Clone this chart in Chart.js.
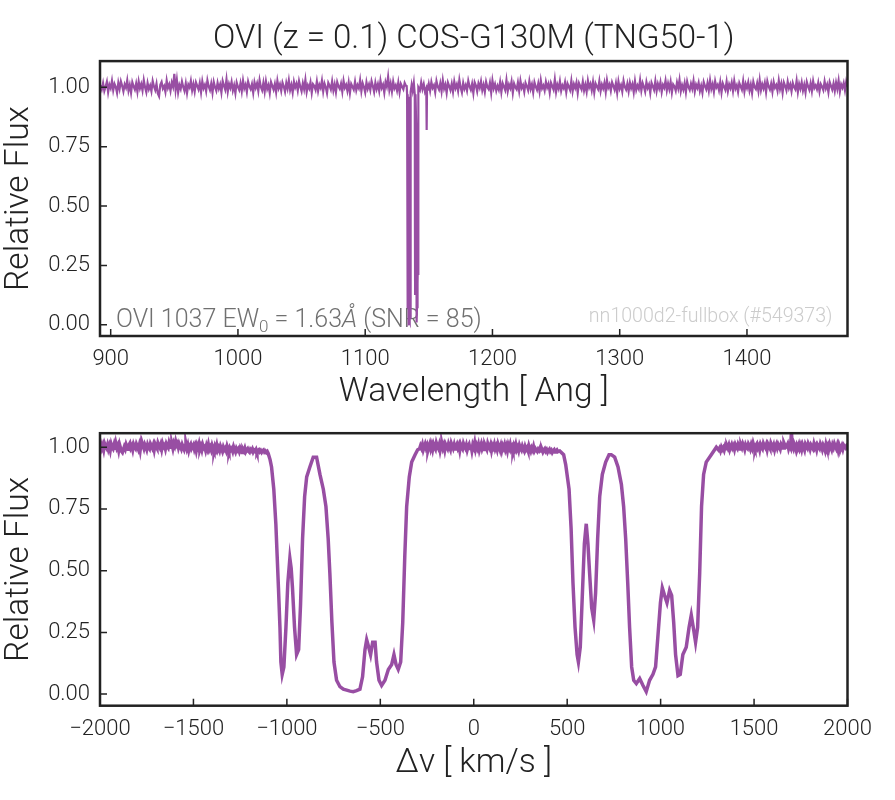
<!DOCTYPE html>
<html><head><meta charset="utf-8">
<script src="https://cdn.jsdelivr.net/npm/chart.js@4.4.1/dist/chart.umd.min.js"></script>
<style>
html,body{margin:0;padding:0;background:#fff;}
#wrap{position:relative;width:895px;height:800px;}
canvas{position:absolute;left:0;}
#c1{top:0;} #c2{top:410px;}
</style></head><body>
<div id="wrap"><canvas id="c1" width="895" height="410"></canvas><canvas id="c2" width="895" height="390"></canvas></div>
<script>
// ---------- DATA ----------
const chartTitle = 'OVI (z = 0.1) COS-G130M (TNG50-1)';
const lineColor = '#984ea3';

// top panel: continuum segments on a 1 Angstrom pixel grid
const waveStep = 1;
const waveSegStarts = [892, 1150];
const fluxTopSegA = [
1.008,0.991,1.017,0.984,1.002,1.023,0.979,1.011,0.996,1.027,
0.987,1.014,1.001,0.976,1.019,0.993,1.025,1.006,0.982,1.012,
0.998,1.029,0.985,1.009,0.977,1.021,1.004,0.990,1.016,0.981,
1.024,0.995,1.013,0.986,1.030,1.000,0.979,1.018,0.992,1.007,
0.983,1.026,1.003,0.988,1.015,0.974,0.962,1.010,1.022,0.994,
1.005,0.980,1.028,0.997,1.012,0.985,1.020,1.002,1.056,0.989,
1.031,0.978,1.009,0.993,1.024,1.001,0.984,1.016,0.976,1.011,
0.999,1.027,0.987,1.013,0.982,1.021,1.006,0.991,1.018,0.979,
1.025,0.996,1.010,0.983,1.029,1.003,0.988,1.015,0.977,1.022,
1.000,0.985,1.019,0.994,1.012,0.978,1.026,1.007,0.990,1.033,
0.981,1.014,0.997,1.023,0.986,1.008,0.975,1.020,1.002,0.989,
1.017,0.983,1.028,0.995,1.011,0.980,1.024,1.004,0.992,1.013,
0.977,1.021,0.998,1.016,0.984,1.030,1.001,0.987,1.019,0.982,
1.025,0.993,1.009,0.976,1.022,1.006,0.990,1.014,0.979,1.027,
0.996,1.012,0.985,1.020,1.003,0.981,1.018,0.994,1.029,0.988,
1.010,0.978,1.023,0.999,1.015,0.986,1.026,1.002,0.983,1.017,
0.992,1.031,0.980,1.008,0.995,1.021,0.977,1.013,1.005,0.989,
1.024,0.984,1.011,0.997,1.028,0.982,1.016,1.000,0.975,1.019,
1.007,0.991,1.025,0.986,1.012,0.979,1.022,1.004,0.993,1.015,
0.981,1.027,0.998,1.010,0.985,1.020,0.976,1.014,1.002,0.990,
1.023,0.987,1.009,0.996,1.030,0.983,1.017,1.001,0.978,1.021,
0.994,1.012,0.988,1.026,1.005,0.980,1.019,0.992,1.013,0.984,
1.028,0.997,1.011,0.977,1.022,1.003,1.044,0.989,1.016,0.982,
1.024,0.995,1.008,0.986,1.020,0.979,1.014,1.002,0.991,1.018,
1.006];
const fluxTopSegC = [
1.013,0.985,1.022,0.997,1.008,0.979,1.026,1.002,0.990,1.017,
0.983,1.029,0.994,1.011,0.976,1.020,1.005,0.988,1.015,0.981,
1.024,0.996,1.012,0.984,1.031,0.999,0.978,1.018,0.993,1.009,
0.986,1.027,1.003,0.989,1.014,0.975,1.021,1.007,0.982,1.016,
0.998,1.025,0.987,1.010,0.980,1.023,1.001,0.992,1.019,0.977,
1.028,0.995,1.013,0.985,1.006,0.990,1.022,0.979,1.017,1.003,
0.988,1.030,0.983,1.011,0.996,1.024,0.976,1.015,1.000,0.991,
1.020,0.984,1.027,0.997,1.009,0.981,1.018,1.004,0.987,1.026,
0.993,1.012,0.978,1.021,1.002,0.989,1.016,0.982,1.029,0.995,
1.007,0.986,1.023,0.999,1.014,0.977,1.019,1.005,0.990,1.032,
0.980,1.011,0.994,1.025,0.985,1.008,0.996,1.021,0.979,1.015,
1.002,0.988,1.027,0.983,1.013,0.997,1.020,0.976,1.017,1.004,
0.991,1.024,0.986,1.010,0.981,1.028,0.999,1.014,0.987,1.022,
0.978,1.016,1.003,0.992,1.026,0.984,1.011,0.995,1.019,0.980,
1.029,0.998,1.012,0.985,1.021,1.006,0.989,1.017,0.977,1.024,
0.994,1.009,0.982,1.027,1.001,0.990,1.015,0.983,1.020,0.996,
1.013,0.979,1.025,0.988,1.007,0.993,1.030,0.986,1.018,1.002,
0.981,1.022,0.997,1.011,0.976,1.019,1.004,0.989,1.026,0.984,
1.014,0.995,1.021,0.980,1.010,0.998,1.028,0.987,1.016,0.992,
1.023,0.978,1.012,1.003,0.985,1.020,0.996,1.031,0.983,1.009,
0.990,1.017,0.979,1.024,1.001,0.988,1.015,0.994,1.027,0.982,
1.011,0.997,1.019,0.984,1.006,0.977,1.022,1.005,0.991,1.018,
0.986,1.029,0.993,1.013,0.981,1.025,0.999,1.010,0.987,1.021,
0.978,1.016,1.002,0.989,1.024,0.983,1.012,0.996,1.020,0.985,
1.027,0.994,1.008,0.980,1.018,1.004,0.990,1.026,0.982,1.014,
0.997,1.021,0.986,1.011,0.976,1.023,1.001,0.992,1.017,0.984,
1.030,0.988,1.013,0.995,1.019,0.979,1.025,1.003,0.990,1.015,
0.981,1.022,0.998,1.009,0.985,1.028,0.993,1.016,0.977,1.020,
1.005,0.987,1.024,0.996,1.012,0.983,1.018,1.001,0.991,1.027,
0.980,1.014,0.994,1.021,0.986,1.010,0.978,1.023,1.004,0.989,
1.017,0.984,1.026,0.997,1.008,0.992,1.019,0.982,1.013,1.002,
0.988,1.025,0.995,1.011,0.979,1.022,1.006,0.990,1.016,0.985,
1.020,0.993,1.028,0.981,1.012,0.998,1.018,0.987,1.024,1.003];
// top panel: absorption region (wavelength, flux)
const absTopWave = [1132.6,1132.93,1133.08,1133.20,1133.30,1133.38,1133.45,1133.52,1133.62,1133.71,1133.88,1134.00,1134.11,1134.20,1134.28,1134.38,1134.60,1134.79,1134.91,1135.00,1135.09,1135.23,1135.46,1135.60,1135.70,1135.80,1135.94,1136.5,1137.3,1138.2,1138.95,1139.05,1139.13,1139.22,1139.30,1139.39,1139.46,1139.54,1139.62,1139.69,1139.89,1140.12,1140.20,1140.32,1140.45,1140.60,1140.77,1140.93,1141.00,1141.11,1141.18,1141.25,1141.35,1141.51,1141.60,1141.68,1141.75,1142.02,1143.0,1144.0,1145.0,1146.0,1147.0,1148.0,1148.3,1148.6,1149.2];
const absTopFlux = [1.005,0.97,0.50,0.07,0.27,0.54,0.43,0.15,0.45,0.87,0.96,0.89,0.75,0.40,0.08,0.01,0.015,0.01,0.22,0.16,0.21,0.03,0.15,0.09,0.50,0.88,0.98,1.010,0.985,1.018,0.97,0.75,0.40,0.13,0.40,0.69,0.49,0.30,0.63,0.86,0.97,0.82,0.45,0.05,0.06,0.01,0.09,0.42,0.37,0.42,0.20,0.07,0.17,0.32,0.21,0.45,0.92,1.00,0.987,1.021,0.992,1.013,0.981,0.995,0.82,1.008,0.986];

// bottom panel: continuum segments on a 5 km/s grid
const velStep = 5;
const velSegStarts = [-2000, -290, 1310];
const fluxBotSegA = [
1.003,1.011,0.996,1.008,0.991,1.014,1.004,0.997,1.010,0.993,
1.006,0.989,1.012,1.000,0.994,1.009,0.990,1.015,0.998,1.007,
0.988,1.010,0.996,0.984,0.979,0.990,1.002,0.993,1.011,1.001,
0.992,1.009,1.016,0.997,1.005,0.990,1.011,1.001,0.995,1.013,
1.004,0.993,1.008,0.988,1.015,0.999,1.007,0.995,1.011,1.002,
0.991,1.010,1.000,0.994,1.014,1.006,0.997,1.009,0.990,1.012,
1.003,0.996,1.017,1.007,0.999,1.011,0.993,1.014,1.002,1.008,
0.994,1.013,1.004,0.998,1.019,1.008,1.000,1.012,0.996,1.016,
1.006,1.024,1.010,1.017,0.999,1.012,1.003,0.994,1.010,1.000,
0.991,1.007,1.014,0.996,1.009,0.989,1.005,1.012,0.995,1.003,
1.010,0.993,1.005,0.987,1.008,0.998,1.013,0.992,1.004,0.990,
1.009,0.997,1.002,0.988,1.006,0.994,1.011,0.991,1.000,0.989,
1.007,0.995,0.986,1.003,0.992,1.008,0.989,0.998,0.987,1.004,
0.994,0.984,1.000,0.990,0.996,0.986,1.004,0.992,0.982,0.997,
0.989,0.995,0.984,1.001,0.990,0.981,0.995,0.987,0.993,0.983,
0.997,0.988,0.979,0.992,0.985,0.996,0.982,0.989,0.994,0.984,
0.980,0.991,0.986,0.993,0.981,0.988,0.984,0.991,0.979,0.987,
0.990,0.982,0.987,0.980,0.986,0.989,0.981,0.985,0.979,0.983];
const fluxBotSegB = [
0.994,1.006,0.997,1.010,0.990,1.002,1.013,0.998,1.008,0.989,
1.004,1.015,0.995,1.009,0.992,1.012,1.001,0.993,1.017,1.005,
0.997,1.010,0.988,1.007,1.014,0.997,1.009,0.990,1.011,1.003,
0.995,1.013,1.001,0.991,1.016,1.006,0.996,1.010,0.993,1.005,
1.013,0.998,1.008,0.988,1.011,1.001,0.994,1.015,1.005,0.997,
1.009,0.990,1.004,1.012,0.995,1.007,0.987,1.010,1.000,1.018,
0.993,1.008,0.997,1.011,0.989,1.003,1.014,0.995,1.006,0.991,
1.010,1.001,0.992,1.015,1.004,0.996,1.009,0.988,1.007,0.999,
1.012,0.994,1.004,0.991,1.013,1.002,0.995,1.008,0.989,1.006,
0.997,1.010,0.992,1.004,0.987,1.009,0.998,1.012,0.993,1.002,
0.989,1.006,0.995,1.010,0.991,1.000,0.987,1.007,0.996,0.989,
1.004,0.993,0.985,1.002,0.991,0.998,0.987,1.006,0.994,0.984,
0.997,0.989,1.003,0.986,0.994,0.988,0.983,0.992,0.987,0.997,
0.985,0.991,0.981,0.989,0.994,0.984,0.990,0.980,0.987,0.992,
0.983,0.988,0.979,0.986,0.990,0.981,0.985,0.989,0.982,0.984];
const fluxBotSegC = [
0.989,0.996,0.986,1.000,0.991,0.998,0.988,1.003,0.994,1.006,
0.997,1.008,0.991,1.002,1.011,0.998,1.006,0.992,1.010,1.001,
0.995,1.012,1.004,0.993,1.009,0.999,1.014,1.005,0.992,1.010,
1.001,0.996,1.013,1.006,0.994,1.010,0.998,1.016,1.003,0.993,
1.008,1.014,0.997,1.005,0.990,1.011,1.002,0.995,1.015,1.006,
0.999,1.010,0.992,1.012,1.004,0.996,1.017,1.008,0.998,1.009,
0.991,1.006,1.014,0.998,1.010,1.002,0.993,1.012,1.005,0.997,
1.017,1.008,1.001,1.005,1.013,0.995,1.007,0.999,1.060,1.003,
0.994,1.014,1.005,0.990,1.009,1.001,1.012,0.996,1.008,0.992,
1.010,1.000,0.989,1.012,1.004,0.997,1.015,1.007,0.993,1.009,
1.002,0.995,1.013,0.998,1.006,0.991,1.010,1.003,0.996,1.014,
1.005,0.992,1.009,1.001,0.988,1.011,0.997,1.007,0.994,1.012,
1.001,0.991,1.009,0.999,1.014,1.004,0.995,1.008,0.990,1.010,
1.000,0.996,1.006,0.993,1.008,1.002,0.997,1.005,1.000];
// bottom panel: absorption systems (velocity, flux)
const absBotVel = [-1100,-1090,-1082,-1070,-1059,-1052,-1045,-1037,-1032,-1025,-1016,-1005,-995,-984,-977,-970,-959,-948,-937,-927,-916,-905,-894,-877,-859,-841,-823,-805,-791,-779,-770,-759,-748,-734,-716,-698,-680,-662,-645,-627,-609,-595,-582,-573,-562,-552,-541,-528,-520,-507,-493,-475,-457,-439,-427,-416,-404,-391,-380,-369,-359,-345,-332,-314,-300,
460,481,492,510,521,531,542,553,560,570,581,592,602,611,620,631,642,652,663,674,688,706,724,736,754,772,790,802,813,824,834,845,856,870,888,905,923,941,959,973,986,999,1009,1021,1034,1048,1059,1070,1080,1093,1105,1119,1137,1152,1164,1177,1187,1198,1209,1219,1230,1244,1271,1298];
const absBotFlux = [0.975,0.95,0.92,0.83,0.69,0.56,0.43,0.27,0.13,0.08,0.11,0.27,0.45,0.55,0.51,0.43,0.27,0.16,0.18,0.36,0.63,0.80,0.88,0.92,0.96,0.96,0.89,0.83,0.76,0.63,0.49,0.29,0.13,0.056,0.03,0.02,0.016,0.012,0.01,0.014,0.02,0.07,0.18,0.22,0.19,0.16,0.21,0.21,0.13,0.056,0.035,0.056,0.10,0.12,0.16,0.12,0.10,0.13,0.29,0.56,0.76,0.88,0.94,0.97,0.99,
0.985,0.97,0.93,0.83,0.67,0.45,0.27,0.16,0.13,0.19,0.40,0.61,0.69,0.61,0.49,0.35,0.30,0.41,0.63,0.80,0.89,0.94,0.97,0.97,0.96,0.92,0.85,0.76,0.63,0.45,0.27,0.11,0.056,0.043,0.063,0.036,0.01,0.056,0.08,0.11,0.24,0.37,0.43,0.40,0.37,0.42,0.40,0.29,0.16,0.075,0.08,0.16,0.19,0.27,0.32,0.26,0.21,0.27,0.49,0.76,0.89,0.94,0.97,1.00];

const yTickStep = 0.25;
const xTickStepTop = 100;
const xTickStepBot = 500;

// ---------- BUILD ----------
function buildSeries(starts, segs, step, ax, ay) {
  const pts = [];
  starts.forEach((s, i) => segs[i].forEach((f, j) => pts.push({x: s + j * step, y: f})));
  ax.forEach((x, i) => pts.push({x: x, y: ay[i]}));
  pts.sort((a, b) => a.x - b.x);
  return pts;
}
const topData = buildSeries(waveSegStarts, [fluxTopSegA, fluxTopSegC], waveStep, absTopWave, absTopFlux);
const botData = buildSeries(velSegStarts, [fluxBotSegA, fluxBotSegB, fluxBotSegC], velStep, absBotVel, absBotFlux);

Chart.defaults.font.family = 'Roboto, "Noto Sans", sans-serif';
Chart.defaults.font.weight = 300;
Chart.defaults.color = '#222';
const INK = '#222';

const frameTicks = {
  id: 'frameTicks',
  afterDatasetsDraw(chart) {
    const {ctx, chartArea: a, scales} = chart;
    ctx.save();
    ctx.strokeStyle = INK; ctx.lineWidth = 1.5;
    ctx.beginPath();
    scales.x.ticks.forEach(t => { const p = scales.x.getPixelForValue(t.value); ctx.moveTo(p, a.bottom); ctx.lineTo(p, a.bottom - 7); });
    scales.y.ticks.forEach(t => { const p = scales.y.getPixelForValue(t.value); ctx.moveTo(a.left, p); ctx.lineTo(a.left + 7, p); });
    ctx.stroke();
    ctx.lineWidth = 2.5;
    ctx.strokeRect(a.left, a.top, a.right - a.left, a.bottom - a.top);
    ctx.restore();
  }
};

const notes = {
  id: 'notes',
  beforeDatasetsDraw(chart) {
    const {ctx, chartArea: a} = chart;
    ctx.save();
    ctx.textBaseline = 'alphabetic';
    ctx.textAlign = 'left';
    ctx.fillStyle = '#707070';
    let x = a.left + 16; const y = a.bottom - 9.5;
    const part = (txt, font, dy) => { ctx.font = font; ctx.fillText(txt, x, y + dy); x += ctx.measureText(txt).width; };
    part('OVI 1037 EW', '300 25px Roboto', 0);
    part('0', '300 17px Roboto', 5);
    part(' = 1.63', '300 25px Roboto', 0);
    part('Å', 'italic 300 25px Roboto', 0);
    part(' (SNR = 85)', '300 25px Roboto', 0);
    ctx.fillStyle = '#cccccc';
    ctx.textAlign = 'right';
    ctx.font = '300 19.6px Roboto';
    ctx.fillText('nn1000d2-fullbox (#549373)', a.right - 15, a.bottom - 14);
    ctx.restore();
  }
};

const yAxis = (min, max) => ({
  type: 'linear', min: min, max: max,
  grid: {display: false, drawTicks: false},
  border: {display: false},
  ticks: {stepSize: yTickStep, includeBounds: false, padding: 10, color: INK, font: {size: 22, weight: 300}, callback: v => v.toFixed(2)},
  title: {display: true, text: 'Relative Flux', color: INK, font: {size: 33.5, weight: 300, lineHeight: 1}, padding: {top: 3, bottom: 0}},
  afterFit: s => { s.width = 100; }
});

new Chart(document.getElementById('c1'), {
  type: 'line',
  data: {datasets: [{data: topData, borderColor: lineColor, borderWidth: 2.2, pointRadius: 0, tension: 0, fill: false}]},
  options: {
    responsive: false, animation: false, events: [],
    layout: {padding: {left: 0, right: 47.5, top: 0, bottom: 0}},
    plugins: {
      legend: {display: false}, tooltip: {enabled: false},
      title: {display: true, fullSize: false, text: chartTitle, color: INK, font: {size: 33, weight: 300, lineHeight: 1.2}, padding: {top: 19.5, bottom: 2}}
    },
    scales: {
      x: {type: 'linear', min: 891.6, max: 1479,
        grid: {display: false, drawTicks: false}, border: {display: false},
        ticks: {stepSize: xTickStepTop, includeBounds: false, padding: 10, color: INK, maxRotation: 0, font: {size: 22, weight: 300}, callback: v => String(v)},
        title: {display: true, text: 'Wavelength [ Ang ]', color: INK, font: {size: 33.5, weight: 300, lineHeight: 1}, padding: {top: 0, bottom: 1}},
        afterFit: s => { s.height = 74; }
      },
      y: yAxis(-0.047, 1.11)
    }
  },
  plugins: [notes, frameTicks]
});

new Chart(document.getElementById('c2'), {
  type: 'line',
  data: {datasets: [{data: botData, borderColor: lineColor, borderWidth: 3.5, pointRadius: 0, tension: 0, fill: false}]},
  options: {
    responsive: false, animation: false, events: [],
    layout: {padding: {left: 0, right: 47.5, top: 18, bottom: 0}},
    plugins: {legend: {display: false}, tooltip: {enabled: false}},
    scales: {
      x: {type: 'linear', min: -2000, max: 2000,
        grid: {display: false, drawTicks: false}, border: {display: false},
        ticks: {stepSize: xTickStepBot, includeBounds: false, padding: 11, color: INK, maxRotation: 0, font: {size: 22, weight: 300}, callback: v => v < 0 ? '\u2212' + Math.abs(v) : String(v)},
        title: {display: true, text: 'Δv [ km/s ]', color: INK, font: {size: 33.5, weight: 300, lineHeight: 1}, padding: {top: 0, bottom: 19.5}},
        afterFit: s => { s.height = 94.3; }
      },
      y: yAxis(-0.047, 1.057)
    }
  },
  plugins: [frameTicks]
});
</script>
</body></html>
